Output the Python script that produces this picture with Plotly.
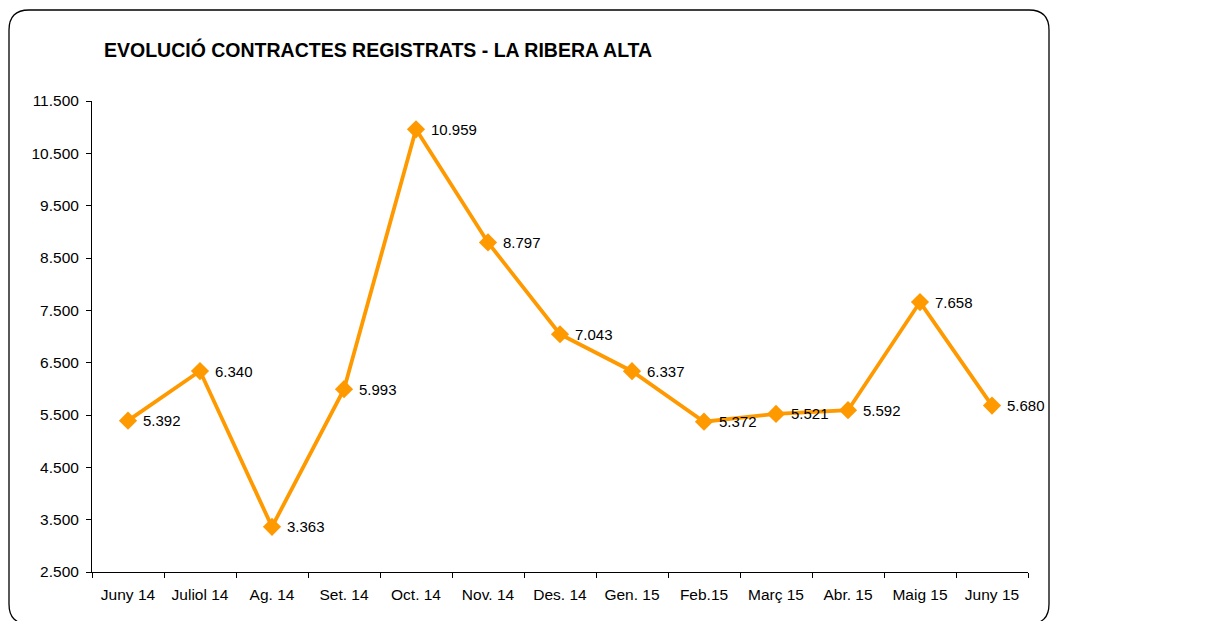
import plotly.graph_objects as go

# =========================================
# DATA
# =========================================
MONTHS = ["Juny 14", "Juliol 14", "Ag. 14", "Set. 14", "Oct. 14", "Nov. 14", "Des. 14",
          "Gen. 15", "Feb.15", "Març 15", "Abr. 15", "Maig 15", "Juny 15"]
CONTRACTS = [5392, 6340, 3363, 5993, 10959, 8797, 7043, 6337, 5372, 5521, 5592, 7658, 5680]
Y_TICKS = [2500, 3500, 4500, 5500, 6500, 7500, 8500, 9500, 10500, 11500]

ORANGE = "#FF9900"
FONT_FAMILY = "Liberation Sans, Arial, sans-serif"

# page body adds an 8px margin, so positions are shifted by -8
W, H = 1230, 621
L, R, T, B = 84, 1020, 93, 564


def px_x(p):
    return (p - L) / (R - L)


def px_y(p):
    return (B - p) / (B - T)


def fmt(v):
    return f"{v:,}".replace(",", ".")


fig = go.Figure(
    go.Scatter(
        x=MONTHS,
        y=CONTRACTS,
        mode="lines+markers",
        line=dict(color=ORANGE, width=3.8),
        marker=dict(symbol="diamond", size=14, color=ORANGE),
        cliponaxis=False,
        hoverinfo="x+y",
    )
)

# data labels to the right of each point
annotations = [
    dict(x=m, y=v, text=fmt(v), showarrow=False, xanchor="left", yanchor="middle",
         xshift=13, font=dict(size=15, color="black", family=FONT_FAMILY))
    for m, v in zip(MONTHS, CONTRACTS)
]

# rounded frame around the chart (bottom edge falls just outside the window)
x0, x1, y0, y1, r = px_x(1), px_x(1041), px_y(2), px_y(616), 20
rx, ry = r / (R - L), r / (B - T)
frame = (
    f"M {x0 + rx} {y0} L {x1 - rx} {y0} Q {x1} {y0} {x1} {y0 - ry} "
    f"L {x1} {y1 + ry} Q {x1} {y1} {x1 - rx} {y1} "
    f"L {x0 + rx} {y1} Q {x0} {y1} {x0} {y1 + ry} "
    f"L {x0} {y0 - ry} Q {x0} {y0} {x0 + rx} {y0} Z"
)

fig.update_layout(
    width=W,
    height=H,
    paper_bgcolor="white",
    plot_bgcolor="white",
    separators=",.",
    font=dict(family=FONT_FAMILY, size=15, color="black"),
    margin=dict(l=L, r=W - R, t=T, b=H - B),
    showlegend=False,
    title=dict(
        text="<b>EVOLUCIÓ CONTRACTES REGISTRATS - LA RIBERA ALTA</b>",
        x=96 / W,
        xanchor="left",
        y=1 - 42 / H,
        yanchor="middle",
        font=dict(size=19.5, family=FONT_FAMILY, color="black"),
    ),
    annotations=annotations,
    shapes=[
        dict(type="path", path=frame, xref="paper", yref="paper",
             line=dict(color="black", width=1.3), layer="below"),
    ],
)

fig.update_xaxes(
    type="category",
    range=[-0.5, len(MONTHS) - 0.5],
    showline=True,
    linecolor="black",
    linewidth=1,
    ticks="outside",
    tickson="boundaries",
    ticklen=5,
    tickcolor="black",
    ticklabelstandoff=8,
    showgrid=False,
    zeroline=False,
    tickfont=dict(size=15.5),
)

fig.update_yaxes(
    range=[2500, 11500],
    tickvals=Y_TICKS,
    tickformat=",",
    showline=True,
    linecolor="black",
    linewidth=1,
    ticks="outside",
    ticklen=5,
    tickcolor="black",
    ticklabelstandoff=4,
    showgrid=False,
    zeroline=False,
    tickfont=dict(size=15.5),
)

fig.write_html("out.html")
